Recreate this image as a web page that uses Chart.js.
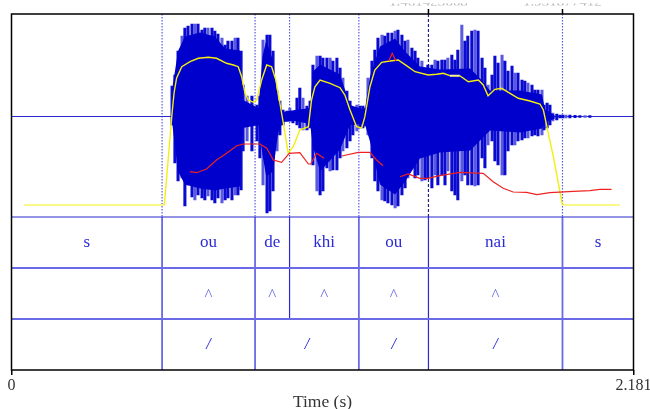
<!DOCTYPE html>
<html>
<head>
<meta charset="utf-8">
<title>Time (s)</title>
<script src="https://cdn.jsdelivr.net/npm/chart.js@4/dist/chart.umd.min.js"></script>
<style>
  body { margin: 0; background: #fff; }
  canvas { display: block; }
</style>
</head>
<body>
<canvas id="grafico" width="650" height="409"></canvas>
<script>
const duration = 2.181

// waveform: outer peaks
const waveTimes = [0.563,0.573,0.584,0.598,0.608,0.619,0.633,0.643,0.654,0.668,0.678,0.689,0.703,0.713,0.724,0.738,0.749,0.759,0.773,0.784,0.794,0.805,0.812,0.826,0.843,0.861,0.871,0.882,0.896,0.906,0.917,0.931,0.941,0.952,0.966,0.976,0.987,1.001,1.011,1.022,1.036,1.047,1.057,1.071,1.082,1.092,1.106,1.117,1.127,1.141,1.152,1.162,1.176,1.187,1.197,1.211,1.222,1.232,1.239,1.250,1.264,1.274,1.285,1.299,1.309,1.320,1.334,1.345,1.355,1.369,1.380,1.390,1.404,1.415,1.425,1.439,1.450,1.460,1.474,1.485,1.495,1.509,1.520,1.530,1.544,1.555,1.565,1.579,1.590,1.600,1.614,1.625,1.636,1.650,1.660,1.671,1.685,1.695,1.706,1.720,1.730,1.741,1.755,1.765,1.776,1.790,1.800,1.811,1.825,1.835,1.846,1.860,1.867,1.878,1.888,1.898,1.912,1.923,1.933,1.944,1.958,1.976,1.993,2.011,2.028]
const waveTop = [.305,.415,.655,.805,.885,.905,.925,.925,.925,.865,.885,.885,.885,.855,.825,.785,.715,.755,.755,.785,.785,.655,.315,.205,.205,.115,.205,.765,.815,.815,.655,.255,.155,.065,.055,.085,.035,.185,.285,.185,.105,.155,.515,.605,.605,.585,.585,.585,.555,.585,.485,.385,.255,.155,.035,.115,.105,.105,.085,.385,.555,.665,.785,.815,.805,.835,.835,.855,.865,.815,.755,.765,.685,.655,.585,.555,.485,.515,.515,.565,.555,.565,.565,.585,.615,.565,.665,.915,.755,.805,.855,.865,.855,.585,.485,.315,.415,.605,.535,.615,.555,.455,.505,.435,.435,.365,.355,.335,.315,.265,.265,.265,.115,.135,.115,.035,.025,.015,.015,.015,.015,.012,.01,.01,.008]
const waveBottom = [-.085,-.465,-.645,-.615,-.895,-.685,-.805,-.835,-.785,-.815,-.835,-.795,-.835,-.865,-.815,-.865,-.835,-.815,-.835,-.785,-.785,-.735,-.345,-.245,-.345,-.245,-.415,-.685,-.965,-.945,-.745,-.345,-.185,-.085,-.045,-.045,-.065,-.085,-.115,-.135,-.135,-.115,-.485,-.745,-.785,-.745,-.515,-.545,-.535,-.535,-.415,-.345,-.315,-.245,-.185,-.145,-.115,-.115,-.095,-.185,-.415,-.645,-.745,-.835,-.845,-.865,-.885,-.915,-.895,-.785,-.715,-.615,-.415,-.615,-.585,-.645,-.635,-.615,-.715,-.585,-.685,-.585,-.685,-.545,-.745,-.785,-.835,-.645,-.585,-.685,-.685,-.695,-.685,-.415,-.515,-.285,-.245,-.445,-.485,-.585,-.585,-.345,-.285,-.285,-.245,-.235,-.215,-.215,-.195,-.185,-.195,-.185,-.135,-.115,-.085,-.045,-.035,-.015,-.015,-.015,-.015,-.012,-.01,-.01,-.008]

// waveform: the solid part around the middle
const coreTimes = [0.563,0.584,0.608,0.661,0.713,0.749,0.801,0.806,0.812,0.866,0.880,0.893,0.917,0.935,0.952,0.994,1.047,1.057,1.082,1.152,1.187,1.239,1.257,1.292,1.345,1.380,1.432,1.502,1.608,1.643,1.678,1.783,1.860,1.871,1.905]
const coreTop = [.265,.655,.80,.84,.80,.68,.66,.315,.165,.085,.60,.76,.56,.165,.045,.065,.085,.45,.52,.42,.115,.065,.40,.70,.78,.65,.50,.47,.48,.38,.26,.26,.22,.07,.015]
const coreBottom = [-.055,-.55,-.68,-.72,-.74,-.72,-.70,-.285,-.115,-.085,-.38,-.60,-.55,-.16,-.055,-.045,-.075,-.30,-.55,-.33,-.085,-.075,-.25,-.68,-.78,-.65,-.42,-.36,-.34,-.24,-.14,-.16,-.12,-.055,-.025]

const intensityTimes = [0.044,0.536,0.563,0.570,0.579,0.597,0.626,0.655,0.690,0.719,0.754,0.778,0.795,0.807,0.819,0.830,0.848,0.860,0.877,0.895,0.912,0.927,0.941,0.953,0.970,0.988,1.011,1.041,1.052,1.064,1.082,1.117,1.152,1.169,1.187,1.210,1.228,1.239,1.257,1.274,1.298,1.327,1.356,1.385,1.415,1.461,1.491,1.514,1.537,1.572,1.602,1.637,1.654,1.671,1.695,1.719,1.748,1.777,1.818,1.853,1.865,1.882,1.900,1.931,1.937,2.133]
const intensity = [-.885,-.885,.032,.235,.385,.498,.548,.582,.592,.582,.532,.515,.498,.398,.232,.165,.142,.165,.365,.515,.498,.365,.135,-.065,-.365,-.302,-.135,-.102,.165,.298,.365,.332,.288,.215,.065,-.102,-.115,-.002,.298,.465,.542,.555,.565,.508,.448,.415,.422,.432,.408,.408,.348,.365,.315,.208,.272,.282,.232,.182,.155,.125,.065,-.165,-.402,-.875,-.885,-.885]

// pitch, null where the contour is broken
const pitchTimes = [0.626,0.649,0.684,0.719,0.754,0.790,0.813,0.871,0.895,0.918,0.947,0.974,1.011,1.041,1.049,1.070,1.096,1.100,1.158,1.216,1.257,1.280,1.303,1.310,1.323,1.335,1.348,1.355,1.362,1.391,1.432,1.461,1.502,1.572,1.654,1.689,1.724,1.759,1.806,1.842,1.888,1.970,2.028,2.063,2.104]
const pitch = [-.552,-.562,-.525,-.435,-.368,-.292,-.275,-.275,-.318,-.435,-.458,-.368,-.362,-.475,-.475,-.368,-.418,null,-.395,-.358,-.358,-.435,-.492,null,.555,.632,.555,null,-.602,-.575,-.618,-.618,-.592,-.558,-.568,-.652,-.718,-.755,-.758,-.782,-.762,-.748,-.742,-.728,-.728]

// annotation tiers
const tierEdges = [-1.005, -1.515, -2.025, -2.535]
const tier1Bounds = [0, 0.528, 0.854, 0.975, 1.218, 1.462, 1.932, duration]
const tier1Labels = ['s', 'ou', 'de', 'khi', 'ou', 'nai', 's']
const tier2Bounds = [0, 0.528, 0.854, 0.975, 1.218, 1.462, 1.932, duration]
const tier2Labels = ['', '^', '^', '^', '^', '^', '']
const tier3Bounds = [0, 0.528, 0.854, 1.218, 1.462, 1.932, duration]
const tier3Labels = ['', '/', '/', '/', '/', '']

const cursorTimes = [1.462, 1.932]
const cursorLabels = ['1.461423668', '1.931877412']
const xTicks = [0, duration]

const serif = '"Liberation Serif", serif'
const blue = '#0000cc'

const zip = (xs, ys) => xs.map((x, i) => ({ x, y: ys[i] }))
const vline = (t, y0, y1, color, width, dash) => ({
    type: 'line',
    data: [{ x: t, y: y0 }, { x: t, y: y1 }],
    borderColor: color,
    borderWidth: width,
    borderDash: dash || [],
    pointRadius: 0,
    order: 6
})

const datasets = [
    // pitch and intensity on top of the waveform
    { type: 'line', data: zip(pitchTimes, pitch), borderColor: '#ee2222', borderWidth: 1.2, pointRadius: 0, order: 0 },
    {
        type: 'line',
        data: zip(intensityTimes, intensity),
        borderColor: '#f4ee10',
        borderWidth: 1.4,
        pointRadius: 0,
        order: 1,
        // the flat ends look paler and wider
        segment: {
            borderColor: (c) => c.p0.parsed.y == c.p1.parsed.y ? '#fbf88a' : undefined,
            borderWidth: (c) => c.p0.parsed.y == c.p1.parsed.y ? 2 : undefined
        }
    },
    // waveform
    { type: 'line', data: zip(coreTimes, coreTop), borderWidth: 0, pointRadius: 0, backgroundColor: blue, fill: '+1', order: 3 },
    { type: 'line', data: zip(coreTimes, coreBottom), borderWidth: 0, pointRadius: 0, order: 3 },
    {
        type: 'bar',
        data: waveTimes.map((t, i) => ({ x: t, y: [waveBottom[i], waveTop[i]] })),
        backgroundColor: (c) => c.dataIndex % 4 == 3 ? '#5a5ae0' : '#0a0ad0',
        barThickness: 2.4,
        order: 4
    },
    // zero line
    { type: 'line', data: [{ x: 0, y: 0 }, { x: duration, y: 0 }], borderColor: '#2a2ad0', borderWidth: 1, pointRadius: 0, order: 5 }
]

// tier lines
tierEdges.slice(0, 3).forEach((e, i) => {
    datasets.push({
        type: 'line',
        data: [{ x: 0, y: e }, { x: duration, y: e }],
        borderColor: i == 0 ? '#2a2ad0' : '#6a6ae6',
        borderWidth: i == 0 ? 1.2 : 1.8,
        pointRadius: 0,
        order: 6
    })
})

// boundaries: dotted in the waveform, solid in the tiers
tier1Bounds.slice(1, -1).forEach(t => {
    datasets.push(vline(t, 1.025, tierEdges[0], t == 1.462 ? '#222288' : '#5a5ae0', 1.2, t == 1.462 ? [3, 2] : [1.5, 1.5]))
})
tier1Bounds.slice(1, -1).forEach(t => {
    const c = (t == 1.462 || t == 0.975) ? '#2a2ad0' : '#6a6ae6'
    datasets.push(vline(t, tierEdges[0], tierEdges[1], c, t == 0.975 || t == 1.462 ? 1.2 : 1.8))
})
tier2Bounds.slice(1, -1).forEach(t => {
    const c = (t == 1.462 || t == 0.975) ? '#2a2ad0' : '#6a6ae6'
    datasets.push(vline(t, tierEdges[1], tierEdges[2], c, t == 0.975 || t == 1.462 ? 1.2 : 1.8))
})
tier3Bounds.slice(1, -1).forEach(t => {
    const c = t == 1.462 ? '#2a2ad0' : '#6a6ae6'
    datasets.push(vline(t, tierEdges[2], tierEdges[3], c, t == 1.462 ? 1.2 : 1.8))
})

// tier texts, frame and the cut off cursor numbers
const extras = {
    id: 'extras',
    afterDraw(chart) {
        const { ctx, chartArea: a, scales: { x, y } } = chart
        ctx.save()
        ctx.textAlign = 'center'
        ctx.textBaseline = 'middle'

        const drawTier = (bounds, labels, n, font, color, shift) => {
            ctx.font = font
            ctx.fillStyle = color
            labels.forEach((txt, i) => {
                const mid = (x.getPixelForValue(bounds[i]) + x.getPixelForValue(bounds[i + 1])) / 2
                const yc = (y.getPixelForValue(tierEdges[n]) + y.getPixelForValue(tierEdges[n + 1])) / 2
                ctx.fillText(txt, mid, yc + shift)
            })
        }
        drawTier(tier1Bounds, tier1Labels, 0, '17px ' + serif, '#2a2ad8', 0)
        drawTier(tier2Bounds, tier2Labels, 1, '17px ' + serif, '#6a6ae6', 2)
        drawTier(tier3Bounds, tier3Labels, 2, 'italic 16px ' + serif, '#1515d0', 0)

        ctx.strokeStyle = '#000'
        ctx.lineWidth = 1.5
        ctx.strokeRect(a.left, a.top, a.right - a.left, a.bottom - a.top)

        cursorTimes.forEach(t => {
            const px = x.getPixelForValue(t)
            ctx.fillStyle = '#000'
            ctx.fillRect(px - 0.75, a.top - 5, 1.5, 5)
        })

        // only the feet of these numbers are left in the picture
        ctx.beginPath()
        ctx.rect(0, 3.5, 650, 2)
        ctx.clip()
        ctx.textBaseline = 'alphabetic'
        ctx.font = '15px ' + serif
        ctx.fillStyle = '#aaa'
        cursorTimes.forEach((t, i) => {
            ctx.fillText(cursorLabels[i], x.getPixelForValue(t), 5.5)
        })
        ctx.restore()
    }
}

const grafico = new Chart(document.getElementById('grafico'), {
    type: 'bar',
    data: { datasets },
    plugins: [extras],
    options: {
        responsive: false,
        animation: false,
        layout: { padding: { left: 11.5, right: 16.5, top: 14, bottom: 0 } },
        plugins: { legend: { display: false }, tooltip: { enabled: false } },
        scales: {
            x: {
                type: 'linear',
                min: 0,
                max: duration,
                offset: false,
                afterBuildTicks: (s) => { s.ticks = xTicks.map(v => ({ value: v })) },
                afterFit: (s) => { s.height = 39; s.paddingRight = 0; s.paddingLeft = 0 },
                grid: { offset: false, drawOnChartArea: false, color: '#000', lineWidth: 1.5, tickLength: 5 },
                border: { display: false },
                ticks: {
                    autoSkip: false,
                    maxRotation: 0,
                    padding: 1,
                    color: '#333',
                    font: { family: serif, size: 16 },
                    callback: (v) => String(v)
                },
                title: {
                    display: true,
                    text: 'Time (s)',
                    color: '#333',
                    padding: { top: 0, bottom: -2 },
                    font: { family: serif, size: 17.5, lineHeight: 1 }
                }
            },
            y: { display: false, min: -2.535, max: 1.025 }
        }
    }
})
</script>
</body>
</html>
